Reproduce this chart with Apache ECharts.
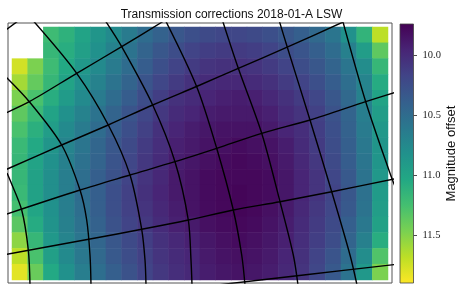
<!DOCTYPE html>
<html><head><meta charset="utf-8">
<script src="https://cdn.jsdelivr.net/npm/echarts@6/dist/echarts.min.js"></script>
<style>html,body{margin:0;padding:0;background:#fff}#c{width:463px;height:290px}</style>
</head><body><div id="c"></div>
<script>
const titleText = 'Transmission corrections 2018-01-A LSW';
const cbName = 'Magnitude offset';
const cbMin = 9.737, cbMax = 11.90;
const cbTicks = [10.0, 10.5, 11.0, 11.5];
const viridis = ['#440154','#482475','#414487','#355f8d','#2a788e','#21918c','#22a884','#44bf70','#7ad151','#bddf26','#fde725'];

const xBins = [0,1,2,3,4,5,6,7,8,9,10,11,12,13,14,15,16,17,18,19,20,21,22,23];
const yBins = [0,1,2,3,4,5,6,7,8,9,10,11,12,13,14,15];

const magY035 = [null,null,11.21,11.12,10.99,10.86,10.76,10.63,10.50,10.41,10.32,10.26,10.22,10.19,10.19,10.22,10.26,10.32,10.39,10.47,10.58,10.82,11.14,11.68];
const magY051 = [null,null,11.17,11.08,10.95,10.82,10.69,10.56,10.43,10.32,10.24,10.17,10.13,10.11,10.11,10.13,10.17,10.24,10.30,10.39,10.50,10.67,10.93,11.36];
const magY066 = [11.75,11.47,11.21,11.04,10.88,10.76,10.63,10.50,10.37,10.26,10.17,10.11,10.06,10.04,10.04,10.06,10.11,10.17,10.24,10.32,10.43,10.58,10.78,11.17];
const magY082 = [11.60,11.38,11.17,10.99,10.82,10.69,10.56,10.43,10.30,10.19,10.11,10.04,10.00,9.98,9.98,10.00,10.04,10.11,10.17,10.26,10.37,10.52,10.71,11.06];
const magY098 = [11.47,11.27,11.08,10.91,10.76,10.63,10.50,10.37,10.24,10.13,10.04,10.00,9.96,9.93,9.91,9.93,9.98,10.04,10.11,10.19,10.32,10.47,10.69,10.99];
const magY114 = [11.36,11.19,10.99,10.82,10.69,10.56,10.43,10.30,10.19,10.09,10.00,9.96,9.91,9.89,9.89,9.89,9.93,10.00,10.06,10.15,10.28,10.43,10.65,10.93];
const magY130 = [11.27,11.10,10.93,10.76,10.63,10.50,10.37,10.26,10.15,10.04,9.96,9.91,9.87,9.85,9.85,9.85,9.89,9.96,10.02,10.13,10.26,10.41,10.63,10.88];
const magY145 = [11.19,11.04,10.86,10.71,10.58,10.45,10.32,10.22,10.11,10.02,9.93,9.89,9.85,9.83,9.80,9.83,9.85,9.91,10.00,10.11,10.24,10.39,10.60,10.86];
const magY161 = [11.17,10.99,10.82,10.67,10.54,10.43,10.30,10.19,10.09,10.00,9.91,9.87,9.83,9.80,9.78,9.80,9.83,9.89,9.98,10.09,10.22,10.37,10.58,10.86];
const magY177 = [11.17,10.97,10.80,10.65,10.52,10.39,10.28,10.17,10.06,9.98,9.89,9.85,9.80,9.78,9.78,9.78,9.80,9.87,9.96,10.06,10.19,10.34,10.56,10.88];
const magY193 = [11.19,10.97,10.80,10.65,10.50,10.39,10.26,10.15,10.04,9.96,9.89,9.85,9.80,9.78,9.76,9.78,9.80,9.87,9.96,10.06,10.17,10.32,10.54,10.91];
const magY209 = [11.25,11.01,10.82,10.65,10.52,10.39,10.26,10.15,10.06,9.98,9.91,9.85,9.80,9.78,9.76,9.78,9.83,9.89,9.98,10.09,10.19,10.34,10.56,10.93];
const magY224 = [11.34,11.06,10.84,10.67,10.54,10.41,10.28,10.17,10.09,10.00,9.93,9.89,9.83,9.80,9.78,9.80,9.85,9.91,10.00,10.11,10.22,10.39,10.60,10.97];
const magY240 = [11.53,11.17,10.88,10.71,10.58,10.45,10.32,10.22,10.13,10.04,9.98,9.93,9.87,9.83,9.80,9.83,9.87,9.93,10.02,10.13,10.24,10.43,10.67,11.08];
const magY256 = [11.68,11.27,10.95,10.76,10.60,10.47,10.34,10.24,10.15,10.06,10.00,9.96,9.89,9.85,9.83,9.85,9.89,9.96,10.04,10.17,10.30,10.50,10.78,11.30];
const magY272 = [11.81,11.40,11.04,10.82,10.65,10.52,10.39,10.28,10.17,10.09,10.02,9.98,9.91,9.87,9.85,9.87,9.91,9.98,10.06,10.19,10.34,10.56,10.88,11.47];

// sky-grid lines in focal-plane coordinates
const gridR0 = [[-3,7.5],[10,-2]];
const gridR1 = [[-3,90.3],[21.3,78.7],[68.7,50.3],[113.7,23.7],[155,-1.5]];
const gridR2 = [[-3,147],[53.7,122],[100.3,102],[144.7,82],[192,62],[230.3,45.3],[280.3,23.7],[335,-1]];
const gridR3 = [[-3,191.6],[72,167],[122,152],[167,138.7],[208.7,125.3],[253.7,110.3],[302,97],[357.7,78.7],[387,69.5]];
const gridR4 = [[-3,231.6],[82,216],[133.7,206.3],[180.3,197],[225.3,187],[272,178.7],[323.7,168.7],[387,155.8]];
const gridR5 = [[205,262.5],[300,251.5],[387,241.5]];
const gridDm1 = [[-1,150],[2,157],[13.7,187],[20.3,227],[22,262]];
const gridD0 = [[-3,53],[21.3,78.7],[53.7,122],[72,167],[78.7,197],[82,232],[83,262]];
const gridD1 = [[25,-2.5],[68.7,50.3],[100.3,102],[122,152],[133.7,206.3],[137,237],[138,262]];
const gridD2 = [[97.5,-2],[113.7,23.7],[144.7,82],[167,138.7],[180.3,197],[183,237],[184,262]];
const gridD3 = [[157.5,-2.5],[188.7,63.7],[208.7,125.3],[225.3,187],[233.7,232],[237,262]];
const gridD4 = [[214.5,-2.5],[230.3,45.3],[253.7,110.3],[272,178.7],[285.3,232],[290,262]];
const gridD5 = [[271.3,-2],[279.3,24.3],[302,97],[323.7,168.7],[342,232],[349,262]];
const gridD6 = [[334.6,-2.5],[357.7,78.7],[382,150.3],[388,166]];

const magRows = [magY035,magY051,magY066,magY082,magY098,magY114,magY130,magY145,magY161,magY177,magY193,magY209,magY224,magY240,magY256,magY272];
const heatData = [];
magRows.forEach((row, j) => row.forEach((v, i) => { if (v !== null) heatData.push([i, j, v]); }));

const gridLines = [gridR0,gridR1,gridR2,gridR3,gridR4,gridR5,gridDm1,gridD0,gridD1,gridD2,gridD3,gridD4,gridD5,gridD6];

const chart = echarts.init(document.getElementById('c'), null, {renderer: 'canvas'});
const series = [{
  type: 'heatmap', xAxisIndex: 0, yAxisIndex: 0, data: heatData,
  emphasis: {disabled: true}, itemStyle: {borderWidth: 0}, silent: true
}];
gridLines.forEach(pts => series.push({
  type: 'line', xAxisIndex: 1, yAxisIndex: 1, data: pts, showSymbol: false, symbol: 'none',
  smooth: 0.3, clip: true, silent: true, z: 5,
  lineStyle: {color: '#000', width: 1.4}
}));
series.push({
  type: 'custom', xAxisIndex: 2, yAxisIndex: 2, data: [[0, cbMin, cbMax]], silent: true,
  renderItem: function (params, api) {
    const p0 = api.coord([api.value(0), api.value(1)]);
    const p1 = api.coord([api.value(0), api.value(2)]);
    const w = api.size([1, 0])[0];
    return {
      type: 'rect',
      shape: {x: p0[0] - w / 2, y: Math.min(p0[1], p1[1]), width: w, height: Math.abs(p1[1] - p0[1])},
      style: {
        fill: new echarts.graphic.LinearGradient(0, 0, 0, 1, viridis.map((c, i) => ({offset: i / (viridis.length - 1), color: c}))),
        stroke: '#444', lineWidth: 0.8
      }
    };
  }
});

chart.setOption({
  animation: false,
  backgroundColor: '#fff',
  title: {
    text: titleText, left: 'center', top: 4,
    textStyle: {fontFamily: 'Liberation Sans', fontSize: 12, fontWeight: 'normal', color: '#111'}
  },
  grid: [
    {left: 12, top: 27, width: 376, height: 253, show: false},
    {left: 8, top: 23, width: 384, height: 260, show: true, borderColor: '#555', borderWidth: 1, backgroundColor: 'transparent'},
    {left: 400, top: 24, width: 13.5, height: 259, show: false}
  ],
  xAxis: [
    {type: 'category', gridIndex: 0, data: xBins, show: false},
    {type: 'value', gridIndex: 1, min: 0, max: 384, show: false},
    {type: 'category', gridIndex: 2, data: [0], show: false}
  ],
  yAxis: [
    {type: 'category', gridIndex: 0, data: yBins, inverse: true, show: false},
    {type: 'value', gridIndex: 1, min: 0, max: 260, inverse: true, show: false},
    {type: 'value', gridIndex: 2, min: cbMin, max: cbMax, inverse: true, position: 'right',
     axisLine: {show: false}, splitLine: {show: false},
     axisTick: {show: true, customValues: cbTicks, length: 3.5, lineStyle: {color: '#222', width: 0.8}},
     axisLabel: {show: true, customValues: cbTicks, margin: 9, fontFamily: 'Liberation Serif', fontSize: 10.5, color: '#222',
                 formatter: v => v.toFixed(1)},
     name: cbName, nameLocation: 'middle', nameRotate: 90, nameGap: 29,
     nameTextStyle: {fontFamily: 'Liberation Sans', fontSize: 13, color: '#111'}}
  ],
  visualMap: {type: 'continuous', show: false, seriesIndex: 0, min: cbMin, max: cbMax, inRange: {color: viridis}},
  series: series
});
</script>
</body></html>
